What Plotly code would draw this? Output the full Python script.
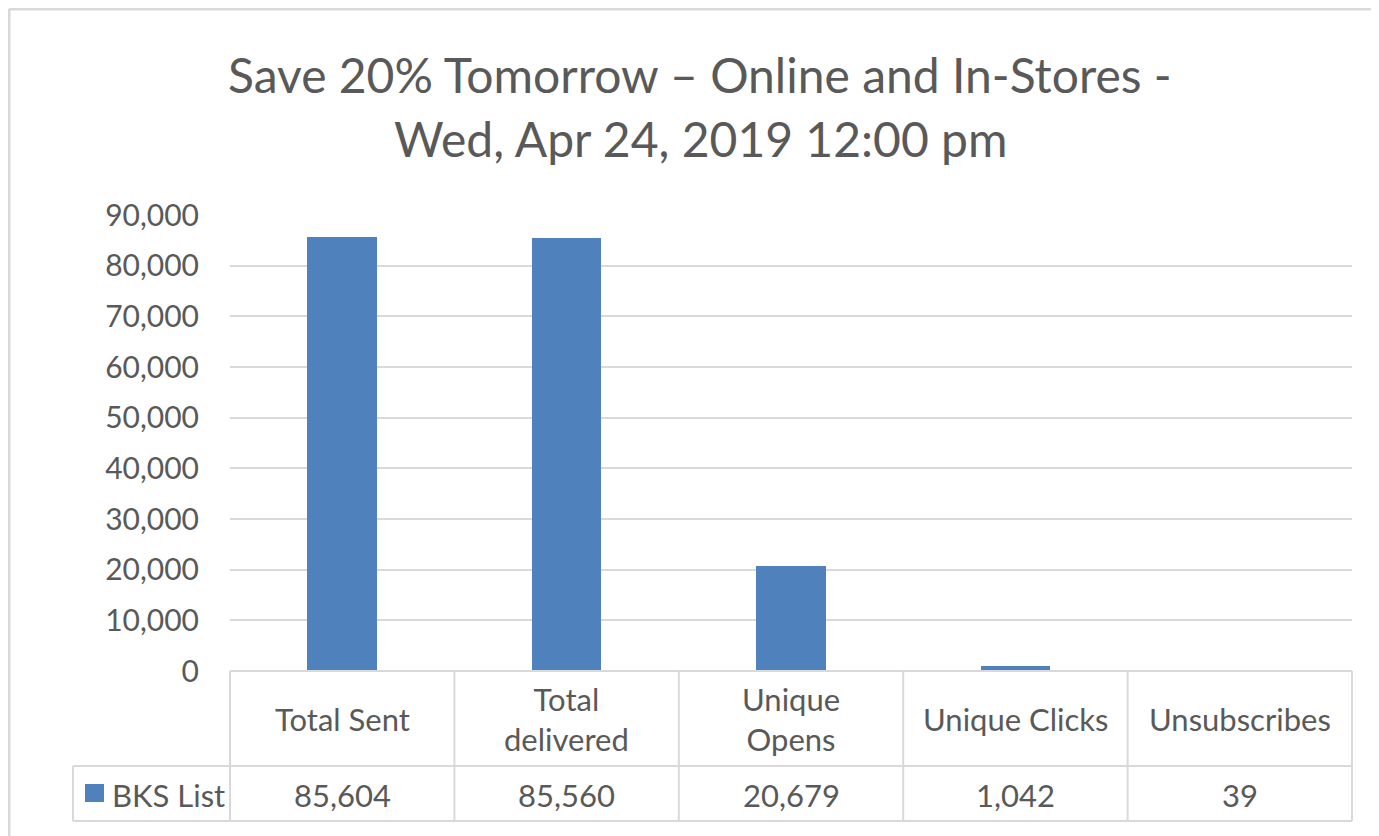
import plotly.graph_objects as go

categories = ["Total Sent", "Total delivered", "Unique Opens", "Unique Clicks", "Unsubscribes"]
header_labels = ["Total Sent", "Total<br>delivered", "Unique<br>Opens", "Unique Clicks", "Unsubscribes"]
series_name = "BKS List"
values = [85604, 85560, 20679, 1042, 39]
y_ticks = list(range(0, 90001, 10000))
title_lines = ["Save 20% Tomorrow \u2013 Online and In-Stores -", "Wed, Apr 24, 2019 12:00 pm"]

OFF = 8  # page body margin
W, H = 1379 - OFF, 836 - OFF
L, R, T, B = 230 - OFF, 1352 - OFF, 215 - OFF, 671 - OFF
FONT = "Lato"
GREY = "#595959"
LINE = "#d9d9d9"
BAR = "#4f81bd"


def px(x):
    return (x - OFF - L) / (R - L)


def py(y):
    return (B - (y - OFF)) / (B - T)


fig = go.Figure()
fig.add_trace(go.Bar(x=categories, y=values, name=series_name, marker=dict(color=BAR, line=dict(width=0)),
                     width=0.31, showlegend=False))

shapes = []
# outer chart border (top and left visible)
shapes.append(dict(type="line", xref="paper", yref="paper", x0=px(9), x1=px(1400), y0=py(9), y1=py(9),
                   line=dict(color=LINE, width=3)))
shapes.append(dict(type="line", xref="paper", yref="paper", x0=px(9), x1=px(9), y0=py(9), y1=py(850),
                   line=dict(color=LINE, width=3)))

row1, row2 = 766, 821
leg_left = 73
lw = 2
shapes.append(dict(type="line", xref="paper", yref="paper", x0=0, x1=1, y0=0, y1=0, line=dict(color=LINE, width=lw)))
shapes.append(dict(type="line", xref="paper", yref="paper", x0=px(leg_left), x1=1, y0=py(row1), y1=py(row1), line=dict(color=LINE, width=lw)))
shapes.append(dict(type="line", xref="paper", yref="paper", x0=px(leg_left), x1=1, y0=py(row2), y1=py(row2), line=dict(color=LINE, width=lw)))
shapes.append(dict(type="line", xref="paper", yref="paper", x0=px(leg_left), x1=px(leg_left), y0=py(row1), y1=py(row2), line=dict(color=LINE, width=lw)))
n = len(categories)
for i in range(n + 1):
    xb = i / n
    shapes.append(dict(type="line", xref="paper", yref="paper", x0=xb, x1=xb, y0=0, y1=py(row2), line=dict(color=LINE, width=lw)))
# legend key
shapes.append(dict(type="rect", xref="paper", yref="paper", x0=px(85), x1=px(104), y0=py(784), y1=py(802),
                   fillcolor=BAR, line=dict(width=0)))

TS = 31
annotations = []
for i, (lab, v) in enumerate(zip(header_labels, values)):
    xc = (i + 0.5) / n
    annotations.append(dict(x=xc, y=py((671 + row1) / 2), xref="paper", yref="paper", text=lab, showarrow=False,
                            font=dict(family=FONT, size=TS, color=GREY), xanchor="center", yanchor="middle"))
    annotations.append(dict(x=xc, y=py((row1 + row2) / 2 + 1), xref="paper", yref="paper", text=f"{v:,}", showarrow=False,
                            font=dict(family=FONT, size=TS, color=GREY), xanchor="center", yanchor="middle"))
annotations.append(dict(x=px(110), y=py((row1 + row2) / 2 + 1), xref="paper", yref="paper", text=series_name, showarrow=False,
                        font=dict(family=FONT, size=TS, color=GREY), xanchor="left", yanchor="middle"))
annotations.append(dict(x=px(700), y=py(75), xref="paper", yref="paper", text=title_lines[0], showarrow=False,
                        font=dict(family=FONT, size=48, color=GREY), xanchor="center", yanchor="middle"))
annotations.append(dict(x=px(700), y=py(138), xref="paper", yref="paper", text=title_lines[1], showarrow=False,
                        font=dict(family=FONT, size=48, color=GREY), xanchor="center", yanchor="middle"))

fig.update_layout(
    width=W, height=H,
    margin=dict(l=L, r=W - R, t=T, b=H - B, pad=0),
    paper_bgcolor="white", plot_bgcolor="white",
    bargap=0,
    shapes=shapes,
    annotations=annotations,
    xaxis=dict(type="category", range=[-0.5, n - 0.5], showticklabels=False, showgrid=False, zeroline=False,
               showline=False, ticks=""),
    yaxis=dict(range=[0, 90000], tickvals=y_ticks, ticktext=[f"{t:,}" for t in y_ticks],
               showgrid=True, gridcolor=LINE, gridwidth=2, zeroline=False, showline=False, ticks="",
               ticklabelstandoff=30,
               tickfont=dict(family=FONT, size=30, color=GREY)),
    showlegend=False,
)

fig.write_html("out.html")
